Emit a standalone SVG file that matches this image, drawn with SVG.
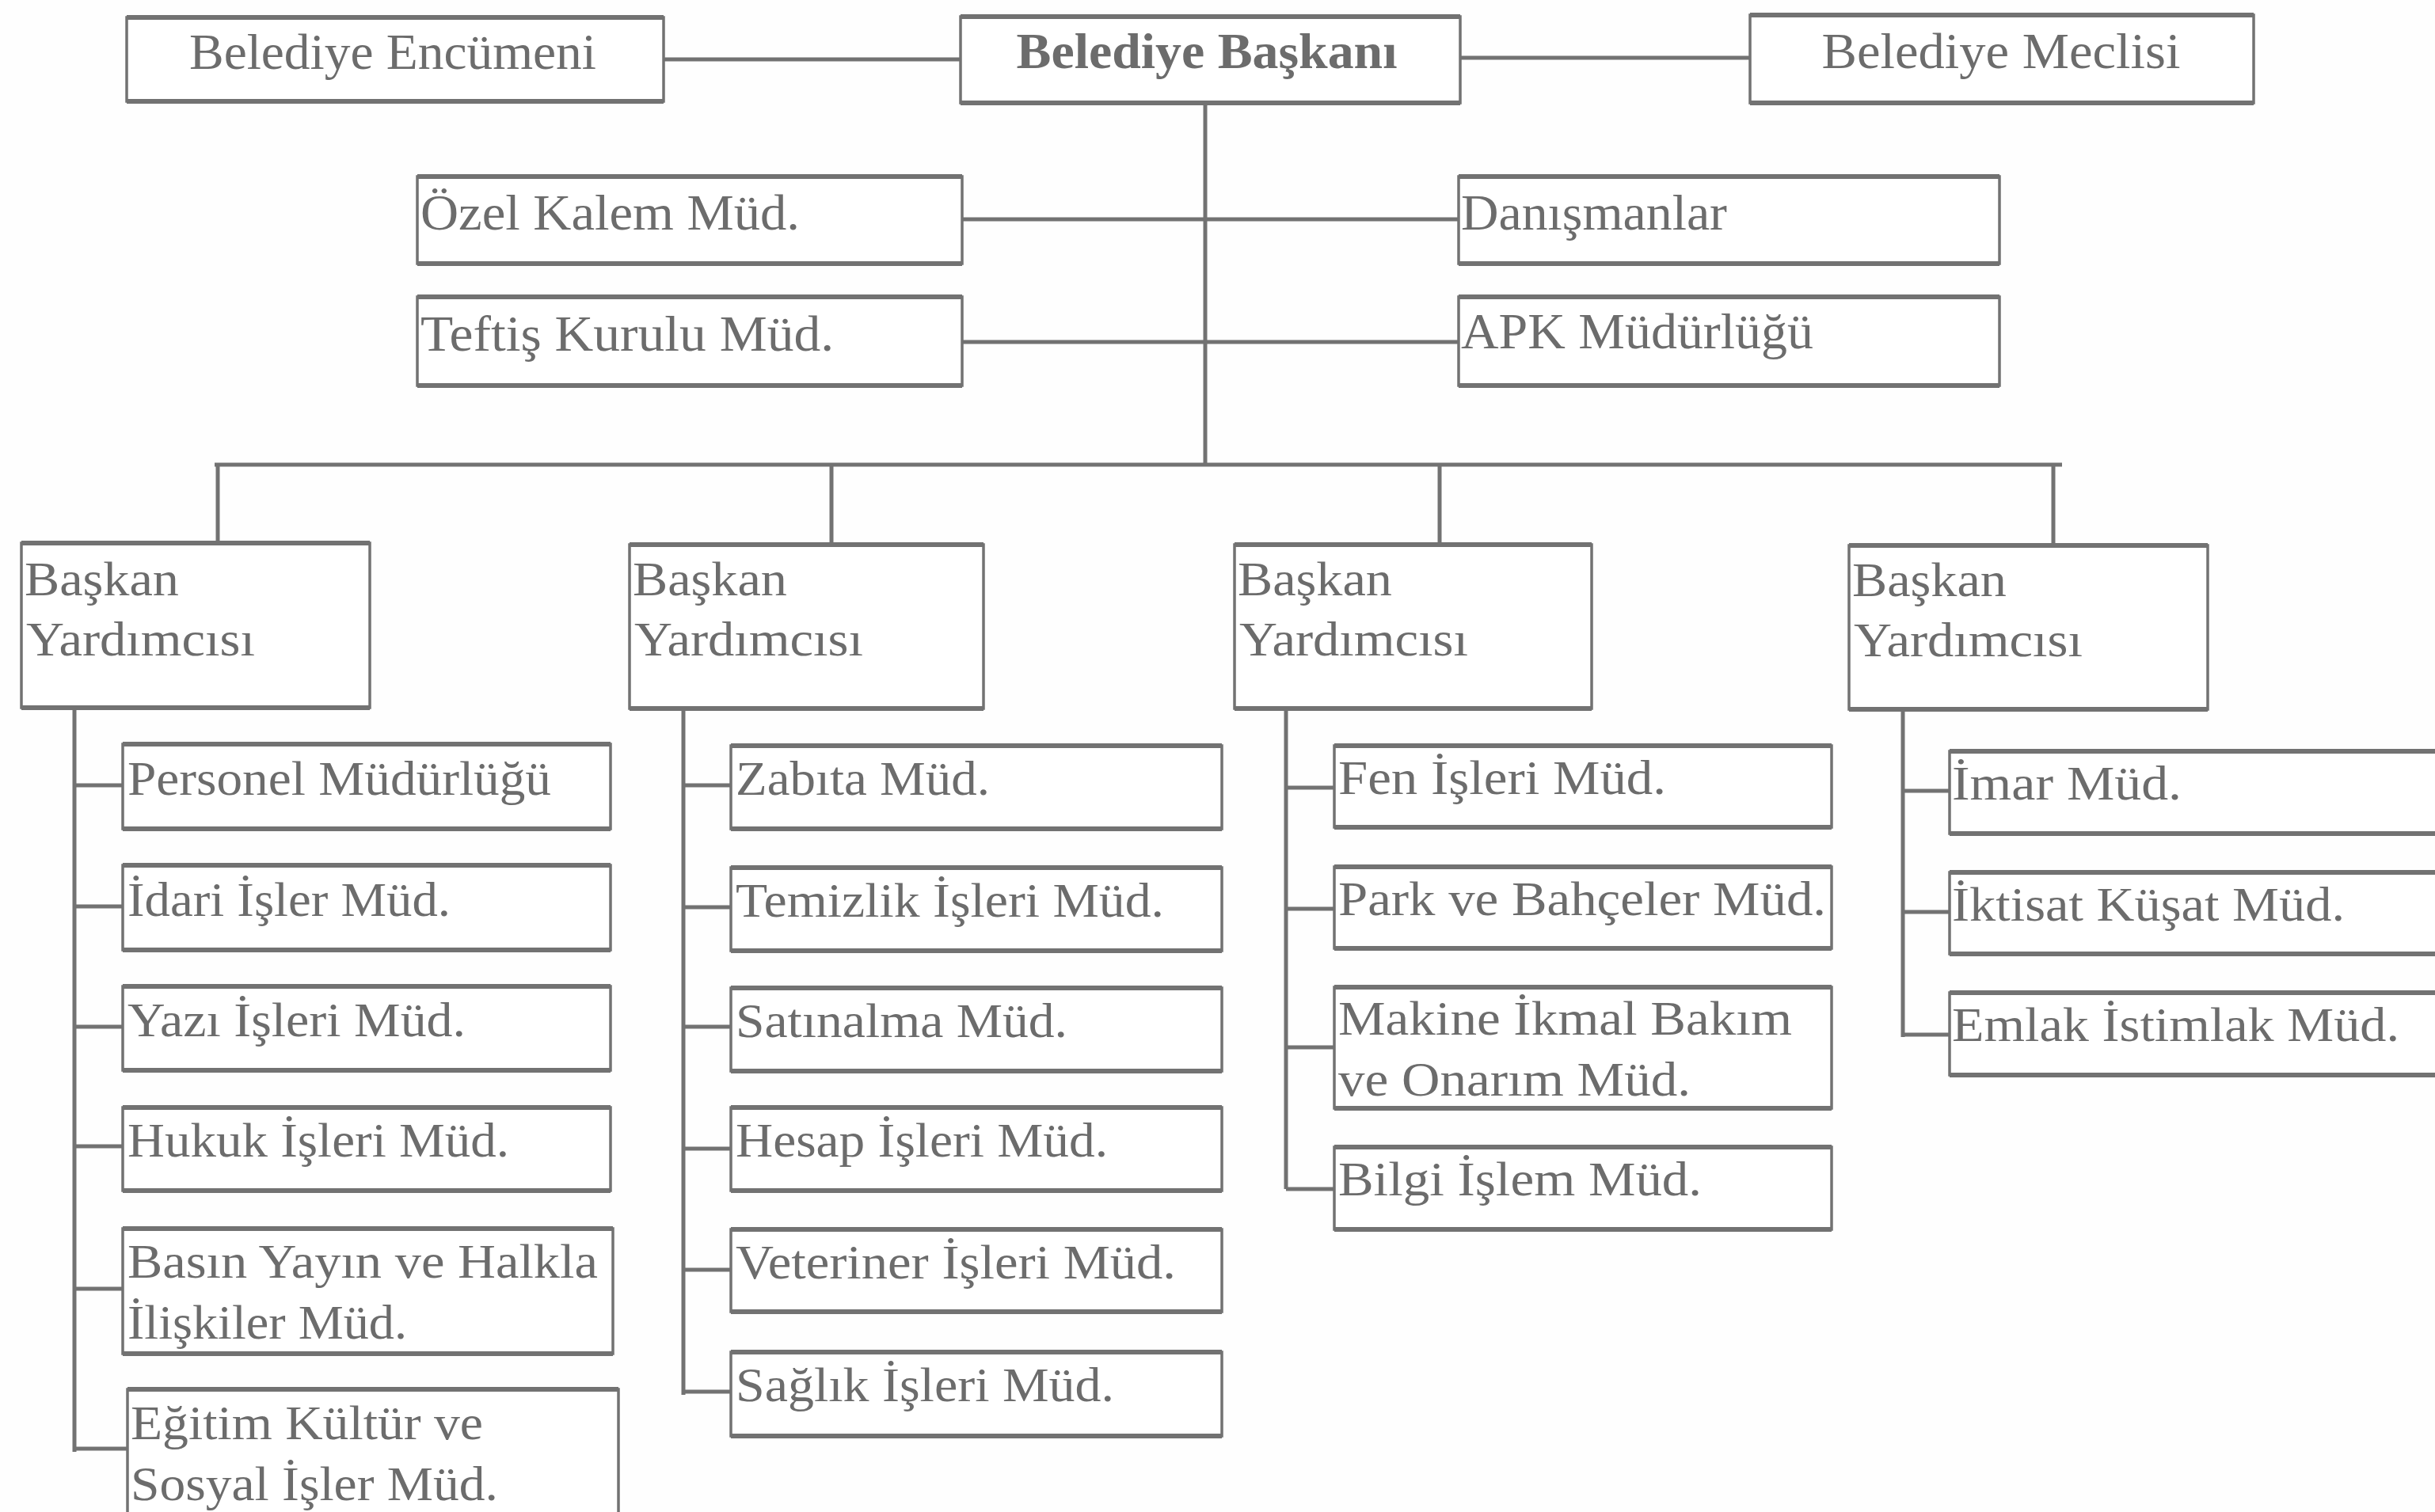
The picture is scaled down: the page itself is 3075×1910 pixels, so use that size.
<svg xmlns="http://www.w3.org/2000/svg" width="3075" height="1910" viewBox="0 0 3075 1910">
<style>
.box{fill:#fff;stroke:#727272;stroke-width:3.5}
.edge{fill:none;stroke:#727272;stroke-width:6}
.con{fill:none;stroke:#727272;stroke-width:5}
text{font-family:"Liberation Serif","Times New Roman",serif;fill:#6c6c6c;font-size:62px}
.t{font-size:64px}
.b{font-weight:bold}
</style>
<rect width="3075" height="1910" fill="#fefefe"/>
<g id="connectors">
<path class="con" d="M838 75H1213M1844 73H2210M1522 130V587M1215 277H1842M1215 432H1842M271 587H2604M275 587V686M1050 587V688M1818 587V688M2593 587V689"/>
<path class="con" d="M94 894V1834M94 992H155M94 1145H155M94 1297H155M94 1448H155M94 1628H155M94 1830H161"/>
<path class="con" d="M863 895V1762M863 992H923M863 1146H923M863 1297H923M863 1451H923M863 1604H923M863 1758H923"/>
<path class="con" d="M1624 895V1502M1624 995H1685M1624 1148H1685M1624 1323H1685M1624 1502H1685"/>
<path class="con" d="M2403 896V1310M2403 999H2462M2403 1152H2462M2403 1307H2462"/>
</g>
<g id="encumeni"><rect class="box" x="160" y="22" width="678" height="106"/><path class="edge" d="M160 22h678M160 128h678"/><text class="t" x="496" y="87" text-anchor="middle" textLength="514" lengthAdjust="spacingAndGlyphs">Belediye Encümeni</text></g>
<g id="baskani"><rect class="box" x="1213" y="21" width="631" height="109"/><path class="edge" d="M1213 21h631M1213 130h631"/><text class="t b" x="1524" y="86" text-anchor="middle" textLength="481" lengthAdjust="spacingAndGlyphs">Belediye Başkanı</text></g>
<g id="meclisi"><rect class="box" x="2210" y="19" width="636" height="111"/><path class="edge" d="M2210 19h636M2210 130h636"/><text class="t" x="2527" y="86" text-anchor="middle" textLength="453" lengthAdjust="spacingAndGlyphs">Belediye Meclisi</text></g>
<g id="ozel"><rect class="box" x="527" y="223" width="688" height="110"/><path class="edge" d="M527 223h688M527 333h688"/><text class="t" x="531" y="290" textLength="479" lengthAdjust="spacingAndGlyphs">Özel Kalem Müd.</text></g>
<g id="teftis"><rect class="box" x="527" y="375" width="688" height="112"/><path class="edge" d="M527 375h688M527 487h688"/><text class="t" x="531" y="443" textLength="522" lengthAdjust="spacingAndGlyphs">Teftiş Kurulu Müd.</text></g>
<g id="danisman"><rect class="box" x="1842" y="223" width="683" height="110"/><path class="edge" d="M1842 223h683M1842 333h683"/><text class="t" x="1845" y="290" textLength="336" lengthAdjust="spacingAndGlyphs">Danışmanlar</text></g>
<g id="apk"><rect class="box" x="1842" y="375" width="683" height="112"/><path class="edge" d="M1842 375h683M1842 487h683"/><text class="t" x="1845" y="440" textLength="445" lengthAdjust="spacingAndGlyphs">APK Müdürlüğü</text></g>
<g id="vp1"><rect class="box" x="27" y="686" width="440" height="208"/><path class="edge" d="M27 686h440M27 894h440"/><text x="31" y="752" textLength="195" lengthAdjust="spacingAndGlyphs">Başkan</text><text x="33" y="828" textLength="289" lengthAdjust="spacingAndGlyphs">Yardımcısı</text></g>
<g id="vp2"><rect class="box" x="795" y="688" width="447" height="207"/><path class="edge" d="M795 688h447M795 895h447"/><text x="799" y="752" textLength="195" lengthAdjust="spacingAndGlyphs">Başkan</text><text x="801" y="828" textLength="289" lengthAdjust="spacingAndGlyphs">Yardımcısı</text></g>
<g id="vp3"><rect class="box" x="1559" y="688" width="451" height="207"/><path class="edge" d="M1559 688h451M1559 895h451"/><text x="1563" y="752" textLength="195" lengthAdjust="spacingAndGlyphs">Başkan</text><text x="1565" y="828" textLength="289" lengthAdjust="spacingAndGlyphs">Yardımcısı</text></g>
<g id="vp4"><rect class="box" x="2335" y="689" width="453" height="207"/><path class="edge" d="M2335 689h453M2335 896h453"/><text x="2339" y="753" textLength="195" lengthAdjust="spacingAndGlyphs">Başkan</text><text x="2341" y="829" textLength="289" lengthAdjust="spacingAndGlyphs">Yardımcısı</text></g>
<g id="personel"><rect class="box" x="155" y="940" width="616" height="107"/><path class="edge" d="M155 940h616M155 1047h616"/><text x="161" y="1004" textLength="535" lengthAdjust="spacingAndGlyphs">Personel Müdürlüğü</text></g>
<g id="idari"><rect class="box" x="155" y="1093" width="616" height="107"/><path class="edge" d="M155 1093h616M155 1200h616"/><text x="161" y="1157" textLength="408" lengthAdjust="spacingAndGlyphs">İdari İşler Müd.</text></g>
<g id="yazi"><rect class="box" x="155" y="1246" width="616" height="106"/><path class="edge" d="M155 1246h616M155 1352h616"/><text x="161" y="1309" textLength="427" lengthAdjust="spacingAndGlyphs">Yazı İşleri Müd.</text></g>
<g id="hukuk"><rect class="box" x="155" y="1399" width="616" height="105"/><path class="edge" d="M155 1399h616M155 1504h616"/><text x="161" y="1461" textLength="482" lengthAdjust="spacingAndGlyphs">Hukuk İşleri Müd.</text></g>
<g id="basin"><rect class="box" x="155" y="1552" width="619" height="158"/><path class="edge" d="M155 1552h619M155 1710h619"/><text x="161" y="1614" textLength="594" lengthAdjust="spacingAndGlyphs">Basın Yayın ve Halkla</text><text x="161" y="1691" textLength="353" lengthAdjust="spacingAndGlyphs">İlişkiler Müd.</text></g>
<g id="egitim"><rect class="box" x="161" y="1755" width="620" height="165"/><path class="edge" d="M161 1755h620"/><text x="165" y="1818" textLength="445" lengthAdjust="spacingAndGlyphs">Eğitim Kültür ve</text><text x="165" y="1895" textLength="464" lengthAdjust="spacingAndGlyphs">Sosyal İşler Müd.</text></g>
<g id="zabita"><rect class="box" x="923" y="942" width="620" height="105"/><path class="edge" d="M923 942h620M923 1047h620"/><text x="929" y="1004" textLength="321" lengthAdjust="spacingAndGlyphs">Zabıta Müd.</text></g>
<g id="temizlik"><rect class="box" x="923" y="1096" width="620" height="105"/><path class="edge" d="M923 1096h620M923 1201h620"/><text x="929" y="1158" textLength="541" lengthAdjust="spacingAndGlyphs">Temizlik İşleri Müd.</text></g>
<g id="satinalma"><rect class="box" x="923" y="1248" width="620" height="105"/><path class="edge" d="M923 1248h620M923 1353h620"/><text x="929" y="1310" textLength="419" lengthAdjust="spacingAndGlyphs">Satınalma Müd.</text></g>
<g id="hesap"><rect class="box" x="923" y="1399" width="620" height="105"/><path class="edge" d="M923 1399h620M923 1504h620"/><text x="929" y="1461" textLength="470" lengthAdjust="spacingAndGlyphs">Hesap İşleri Müd.</text></g>
<g id="veteriner"><rect class="box" x="923" y="1553" width="620" height="104"/><path class="edge" d="M923 1553h620M923 1657h620"/><text x="929" y="1615" textLength="556" lengthAdjust="spacingAndGlyphs">Veteriner İşleri Müd.</text></g>
<g id="saglik"><rect class="box" x="923" y="1708" width="620" height="106"/><path class="edge" d="M923 1708h620M923 1814h620"/><text x="929" y="1770" textLength="478" lengthAdjust="spacingAndGlyphs">Sağlık İşleri Müd.</text></g>
<g id="fen"><rect class="box" x="1685" y="942" width="628" height="103"/><path class="edge" d="M1685 942h628M1685 1045h628"/><text x="1690" y="1003" textLength="414" lengthAdjust="spacingAndGlyphs">Fen İşleri Müd.</text></g>
<g id="park"><rect class="box" x="1685" y="1095" width="628" height="103"/><path class="edge" d="M1685 1095h628M1685 1198h628"/><text x="1690" y="1156" textLength="616" lengthAdjust="spacingAndGlyphs">Park ve Bahçeler Müd.</text></g>
<g id="makine"><rect class="box" x="1685" y="1247" width="628" height="153"/><path class="edge" d="M1685 1247h628M1685 1400h628"/><text x="1690" y="1307" textLength="573" lengthAdjust="spacingAndGlyphs">Makine İkmal Bakım</text><text x="1690" y="1384" textLength="445" lengthAdjust="spacingAndGlyphs">ve Onarım Müd.</text></g>
<g id="bilgi"><rect class="box" x="1685" y="1449" width="628" height="104"/><path class="edge" d="M1685 1449h628M1685 1553h628"/><text x="1690" y="1510" textLength="459" lengthAdjust="spacingAndGlyphs">Bilgi İşlem Müd.</text></g>
<g id="imar"><rect class="box" x="2462" y="949" width="700" height="104"/><path class="edge" d="M2462 949h700M2462 1053h700"/><text x="2465" y="1010" textLength="290" lengthAdjust="spacingAndGlyphs">İmar Müd.</text></g>
<g id="iktisat"><rect class="box" x="2462" y="1102" width="700" height="103"/><path class="edge" d="M2462 1102h700M2462 1205h700"/><text x="2465" y="1163" textLength="496" lengthAdjust="spacingAndGlyphs">İktisat Küşat Müd.</text></g>
<g id="emlak"><rect class="box" x="2462" y="1254" width="700" height="104"/><path class="edge" d="M2462 1254h700M2462 1358h700"/><text x="2465" y="1315" textLength="565" lengthAdjust="spacingAndGlyphs">Emlak İstimlak Müd.</text></g>
</svg>
